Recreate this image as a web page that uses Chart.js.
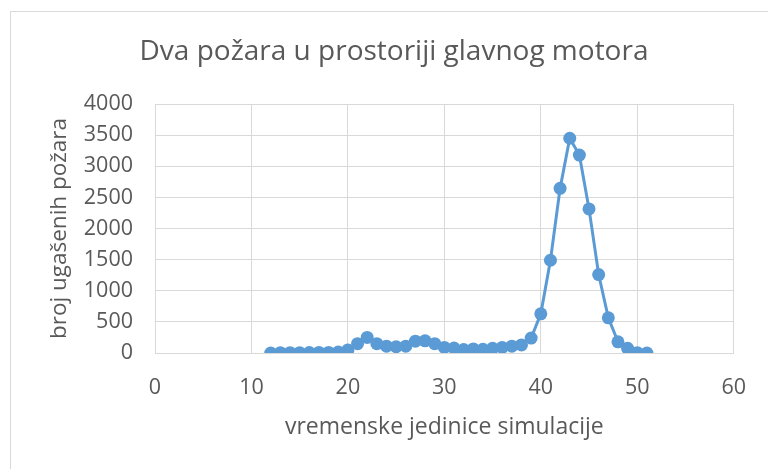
<!DOCTYPE html>
<html>
<head>
<meta charset="utf-8">
<script src="https://cdn.jsdelivr.net/npm/chart.js@4/dist/chart.umd.min.js"></script>
<style>
    html, body { margin: 0; padding: 0; background: #fff; }
    #wrap { position: relative; width: 768px; height: 469px; }
</style>
</head>
<body>
<div id="wrap"><canvas id="fireChart" width="768" height="469"></canvas></div>
<script>
// Simulation time units and extinguished fire counts
const simTime = [12, 13, 14, 15, 16, 17, 18, 19, 20, 21,
                 22, 23, 24, 25, 26, 27, 28, 29, 30, 31,
                 32, 33, 34, 35, 36, 37, 38, 39, 40, 41,
                 42, 43, 44, 45, 46, 47, 48, 49, 50, 51];
const firesOut = [0, 5, 5, 5, 8, 10, 10, 15, 50, 150,
                  250, 150, 110, 100, 110, 190, 195, 150, 90, 80,
                  55, 65, 60, 75, 90, 110, 130, 240, 630, 1490,
                  2645, 3450, 3180, 2315, 1260, 565, 180, 75, 5, 0];
const xTicks = [0, 10, 20, 30, 40, 50, 60];
const yTicks = [0, 500, 1000, 1500, 2000, 2500, 3000, 3500, 4000];

const chartTitle = 'Dva požara u prostoriji glavnog motora';
const xTitle = 'vremenske jedinice simulacije';
const yTitle = 'broj ugašenih požara';

const textColor = '#595959';
const gridColor = '#d9d9d9';
const lineColor = '#5b9bd5';
const fontFamily = '"Open Sans", sans-serif';

// Thin frame around the whole chart object
const framePlugin = {
    id: 'frame',
    beforeDraw(chart) {
        const ctx = chart.ctx;
        ctx.save();
        ctx.fillStyle = '#fff';
        ctx.fillRect(0, 0, chart.width, chart.height);
        ctx.strokeStyle = gridColor;
        ctx.lineWidth = 1;
        ctx.strokeRect(10.5, 11.5, 900, 600);
        ctx.restore();
    }
};

const ctx = document.getElementById('fireChart').getContext('2d');

new Chart(ctx, {
    type: 'line',
    data: {
        datasets: [{
            data: simTime.map((t, i) => ({ x: t, y: firesOut[i] })),
            borderColor: lineColor,
            backgroundColor: lineColor,
            borderWidth: 3,
            tension: 0,
            pointRadius: 6.5,
            pointBorderWidth: 0,
            pointBackgroundColor: lineColor,
            fill: false
        }]
    },
    options: {
        responsive: false,
        animation: false,
        layout: {
            autoPadding: false,
            padding: { left: 51, right: 31, top: 0, bottom: 0 }
        },
        plugins: {
            legend: { display: false },
            tooltip: { enabled: false },
            title: {
                display: true,
                text: chartTitle,
                color: textColor,
                font: { family: fontFamily, size: 28, weight: 'normal', lineHeight: 1.2 },
                padding: { top: 35, bottom: 35.4 }
            }
        },
        scales: {
            x: {
                type: 'linear',
                min: 0,
                max: 60,
                afterBuildTicks: scale => {
                    scale.ticks = xTicks.map(v => ({ value: v }));
                },
                afterFit: scale => {
                    scale.height = 469 - 353;
                },
                grid: { color: gridColor, drawTicks: false },
                border: { color: gridColor },
                ticks: {
                    color: textColor,
                    padding: 22,
                    font: { family: fontFamily, size: 21.5 },
                    callback: value => String(value)
                },
                title: {
                    display: true,
                    text: xTitle,
                    color: textColor,
                    font: { family: fontFamily, size: 23, lineHeight: 1.2 },
                    padding: { top: 0, bottom: 28 }
                }
            },
            y: {
                min: 0,
                max: 4000,
                afterBuildTicks: scale => {
                    scale.ticks = yTicks.map(v => ({ value: v }));
                },
                afterFit: scale => {
                    scale.width = 155 - 51;
                },
                grid: { color: gridColor, drawTicks: false },
                border: { color: gridColor },
                ticks: {
                    color: textColor,
                    padding: 22,
                    font: { family: fontFamily, size: 21.5 },
                    callback: value => String(value)
                },
                title: {
                    display: true,
                    text: yTitle,
                    color: textColor,
                    font: { family: fontFamily, size: 22.5, lineHeight: 0.8 },
                    padding: { top: 0, bottom: 0 }
                }
            }
        }
    },
    plugins: [framePlugin]
});
</script>
</body>
</html>
